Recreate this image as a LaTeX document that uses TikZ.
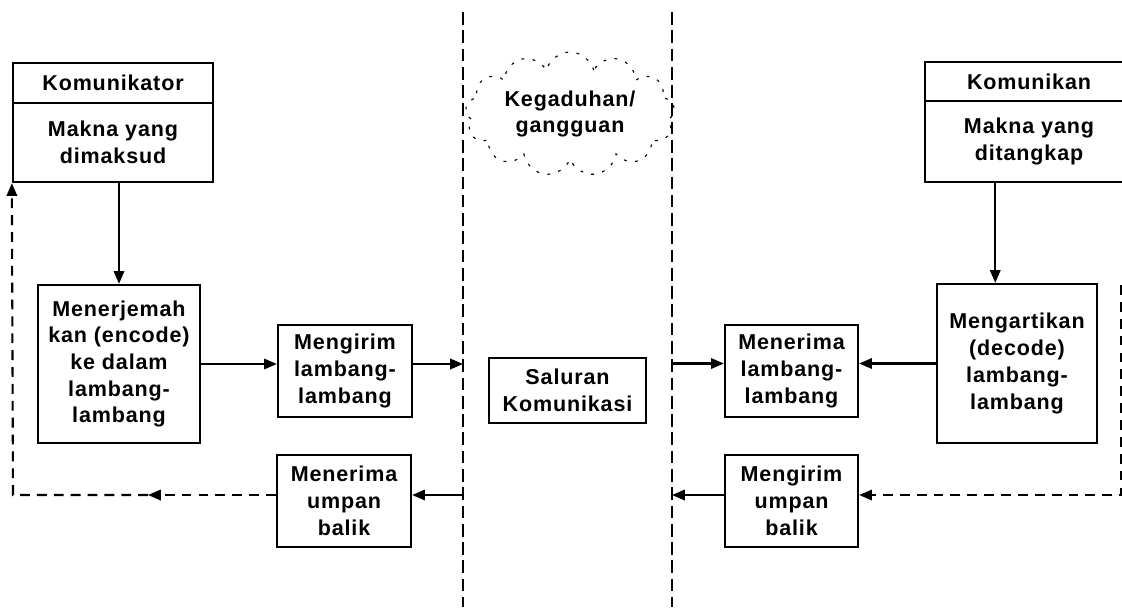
\documentclass[tikz,border=0pt]{standalone}
\usepackage{fontspec}
\setmainfont{Liberation Sans}[LetterSpace=4]
\usetikzlibrary{arrows.meta,shapes.symbols}

\tikzset{
    kotak/.style={draw, line width=1.6pt, rectangle, align=center, inner sep=1pt, font=\fontsize{15.3}{19}\selectfont\bfseries},
    panah/.style={line width=1.5pt, -{Triangle[length=0.32cm, width=0.26cm]}},
    putus/.style={dash pattern=on 7pt off 5pt},
    batas/.style={line width=1.6pt, dash pattern=on 9pt off 4pt},
    awan/.style={cloud, cloud puffs=13, aspect=2.2, draw, line width=0.8pt, dash pattern=on 2pt off 6pt, align=center, minimum width=4.85cm, minimum height=2.25cm, font=\fontsize{15.3}{19}\selectfont\bfseries}
}

\begin{document}
\begin{tikzpicture}[x=0.025cm, y=-0.025cm]
        \useasboundingbox (0,0) rectangle (1122,607);
        \clip (0,0) rectangle (1122,607);
        % Boxes, dividers and arrows:
        \node[kotak, minimum width=5cm, minimum height=1cm](N1) at (113, 83){Komunikator};
        \node[kotak, minimum width=5cm, minimum height=1.975cm](N2) at (113, 142.5){Makna yang\\dimaksud};
        \node[kotak, minimum width=4.05cm, minimum height=3.95cm](N3) at (119, 364){Menerjemah\\kan (encode)\\ke dalam\\lambang-\\lambang};
        \node[kotak, minimum width=3.35cm, minimum height=2.3cm](N4) at (345, 371){Mengirim\\lambang-\\lambang};
        \node[kotak, minimum width=3.35cm, minimum height=2.3cm](N5) at (344, 501){Menerima\\umpan\\balik};
        \node[kotak, minimum width=3.925cm, minimum height=1.625cm](N6) at (567.5, 390.5){Saluran\\Komunikasi};
        \node[awan](N7) at (570, 114){Kegaduhan/\\gangguan};
        \node[kotak, minimum width=5.2cm, minimum height=0.975cm](N8) at (1029, 81.5){Komunikan};
        \node[kotak, minimum width=5.2cm, minimum height=2.025cm](N9) at (1029, 141.5){Makna yang\\ditangkap};
        \node[kotak, minimum width=4cm, minimum height=3.975cm](N10) at (1017, 363.5){Mengartikan\\(decode)\\lambang-\\lambang};
        \node[kotak, minimum width=3.325cm, minimum height=2.3cm](N11) at (791.5, 371){Menerima\\lambang-\\lambang};
        \node[kotak, minimum width=3.325cm, minimum height=2.3cm](N12) at (791.5, 501){Mengirim\\umpan\\balik};
        \coordinate (G1a) at (463, 12);
        \coordinate (G1b) at (463, 607);
        \coordinate (G2a) at (672, 12);
        \coordinate (G2b) at (672, 607);
        \coordinate (F1) at (13, 495);
        \coordinate (M1) at (148, 495);
        \coordinate (F2) at (1121.5, 495);
        \coordinate (F3) at (1121.5, 285);
        \draw[batas] (G1a) -- (G1b);
        \draw[batas] (G2a) -- (G2b);
        \draw[panah] (N2.south -| N3.north) -- (N3.north);
        \draw[panah] (N3.east) -- (N3.east -| N4.west);
        \draw[panah] (N3.east -| N4.east) -- (N3.east -| G1a);
        \draw[panah] (F1 -| G1a) -- (F1 -| N5.east);
        \draw[panah, putus] (F1 -| N5.west) -- (M1);
        \draw[panah, putus] (M1) -- (F1) -- (N2.south west);
        \draw[panah] ([xshift=-24pt]N9.south) -- ([xshift=-24pt]N9.south |- N10.north);
        \draw[panah] (N10.west) -- (N10.west -| N11.east);
        \draw[panah] (N10.west -| G2a) -- (N10.west -| N11.west);
        \draw[panah] (F2 -| N12.west) -- (F2 -| G2a);
        \draw[panah, putus] (F3) -- (F2) -- (F2 -| N12.east);
    \end{tikzpicture}
\end{document}
